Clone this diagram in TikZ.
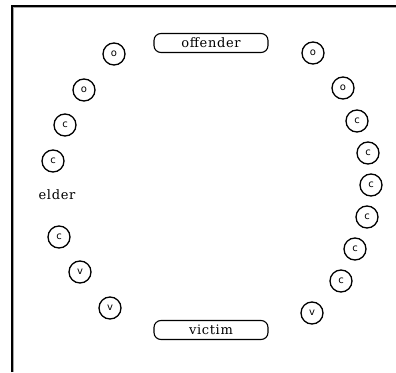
\documentclass[tikz,border=0pt]{standalone}
\usepackage{fontspec}
\setmainfont{DejaVu Serif}
\newfontfamily\wideserif[LetterSpace=5]{DejaVu Serif}
\newfontfamily\smallsans{DejaVu Sans}
\tikzset{
    seat/.style={draw, circle, line width=1.3pt, minimum size=22pt, inner sep=0pt,
        font=\smallsans\fontsize{10}{10}\selectfont},
    role/.style={draw, rounded corners=7pt, line width=1.1pt, minimum width=114pt,
        minimum height=19pt, inner sep=0pt, font=\wideserif\fontsize{13}{13}\selectfont},
    label/.style={font=\wideserif\fontsize{13}{13}\selectfont, inner sep=0pt}
}
\begin{document}
\begin{tikzpicture}[x=1pt,y=-1pt]
    \useasboundingbox (0,0) rectangle (396,372);
    % frame
    \draw [black!35, line width=1pt] (13.5,372) -- (13.5,7.5) -- (396,7.5);
    \draw [line width=2pt] (11.5,372) -- (11.5,5.5) -- (396,5.5);
    % the two roles
    \node [role] (offender) at (211,43) {offender};
    \node [role] (victim) at (211,330) {victim};
    \node [label] (elder) at (57,195) {elder};
    % left side of the circle
    \foreach \n/\x/\y/\t in {l1/114/54/o, l2/84/90/o, l3/65/125/c, l4/53/161/c,
                             l5/59/237/c, l6/80/272/v, l7/110/308/v}
        \node [seat] (\n) at (\x,\y) {\t};
    % right side of the circle
    \foreach \n/\x/\y/\t in {r1/313/53/o, r2/343/88/o, r3/357/121/c, r4/368/153/c,
                             r5/371/185/c, r6/367/217/c, r7/355/249/c, r8/341/281/c,
                             r9/312/313/v}
        \node [seat] (\n) at (\x,\y) {\t};
\end{tikzpicture}
\end{document}
